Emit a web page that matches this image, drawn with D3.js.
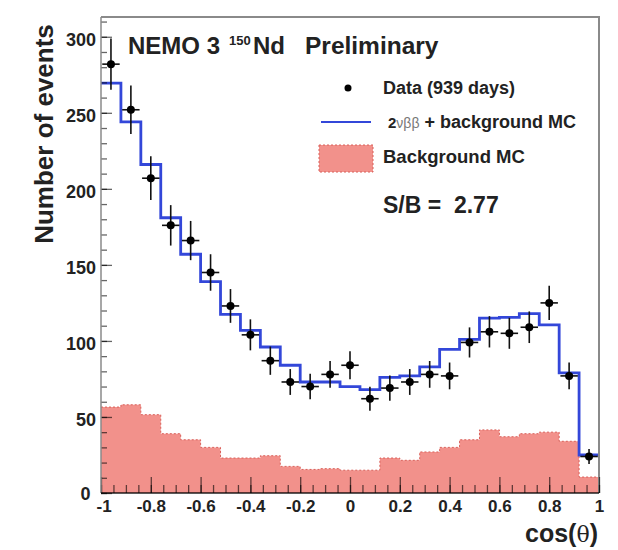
<!DOCTYPE html>
<html>
<head>
<meta charset="utf-8">
<script src="https://cdn.jsdelivr.net/npm/d3@7"></script>
<style>
  html, body { margin: 0; padding: 0; background: #fff; }
  svg { display: block; }
  text { font-family: "Liberation Sans", Arial, Helvetica, sans-serif; }
</style>
</head>
<body>
<svg id="chart" width="618" height="550"></svg>
<script>
// cos(theta) bins (width 0.08), bin centres
const binCenters = [-0.96, -0.88, -0.80, -0.72, -0.64, -0.56, -0.48, -0.40, -0.32, -0.24,
                    -0.16, -0.08, 0.00, 0.08, 0.16, 0.24, 0.32, 0.40, 0.48, 0.56,
                    0.64, 0.72, 0.80, 0.88, 0.96];
const binWidth = 0.08;

// Measured events (939 days) and their statistical errors
const dataCounts = [282, 252, 207, 176, 166, 145, 123, 104, 87, 73,
                    70, 78, 84, 62, 69, 73, 78, 77, 99, 106,
                    105, 109, 125, 77, 24];
const dataErrors = [16.8, 15.9, 14.4, 13.3, 12.9, 12.0, 11.1, 10.2, 9.3, 8.5,
                    8.4, 8.8, 9.2, 7.9, 8.3, 8.5, 8.8, 8.8, 9.9, 10.3,
                    10.2, 10.4, 11.2, 8.8, 4.9];

// 2vbb + background Monte Carlo
const totalMC = [269.5, 244, 216, 181, 157, 139, 117.5, 107, 96, 84,
                 73, 73, 70, 68, 76, 77, 83, 94.5, 101, 115,
                 115.5, 118, 110.5, 79, 25];

// Background-only Monte Carlo
const backgroundMC = [56.5, 58, 51.5, 39, 35, 30, 23, 23, 24.5, 17.5,
                      15.5, 16, 15, 15, 23, 21.5, 27, 30, 35, 41.5,
                      37, 39, 40, 34, 10.5];

// Axis ticks
const xTickValues = [-1, -0.8, -0.6, -0.4, -0.2, 0, 0.2, 0.4, 0.6, 0.8, 1];
const xTickLabels = ["-1", "-0.8", "-0.6", "-0.4", "-0.2", "0", "0.2", "0.4", "0.6", "0.8", "1"];
const yTickValues = [0, 50, 100, 150, 200, 250, 300];
const yTickLabels = ["0", "50", "100", "150", "200", "250", "300"];

(function draw() {
  const svg = d3.select("#chart");
  const pL = 101, pR = 599, pT = 17, pB = 493;

  const x = d3.scaleLinear().domain([-1, 1]).range([pL, pR]);
  const y = d3.scaleLinear().domain([0, 313]).range([pB, pT]);

  const pinkFill = "#f2918b";
  const pinkEdge = "#d9605a";
  const blue = "#3347d9";

  // Step outlines: one point per lower bin edge plus the final upper edge
  function stepPoints(values) {
    const pts = values.map((v, i) => [binCenters[i] - binWidth / 2, v]);
    pts.push([binCenters[binCenters.length - 1] + binWidth / 2, values[values.length - 1]]);
    return pts;
  }

  const plot = svg.append("g");

  // Background histogram (filled)
  const bgPts = stepPoints(backgroundMC);
  plot.append("path")
    .attr("d", d3.area().curve(d3.curveStepAfter)
      .x(d => x(d[0])).y0(y(0)).y1(d => y(d[1]))(bgPts))
    .attr("fill", pinkFill);
  plot.append("path")
    .attr("d", d3.line().curve(d3.curveStepAfter)
      .x(d => x(d[0])).y(d => y(d[1]))(bgPts))
    .attr("fill", "none")
    .attr("stroke", pinkEdge)
    .attr("stroke-width", 1)
    .attr("stroke-dasharray", "2,2");

  // Signal + background histogram (line)
  plot.append("path")
    .attr("d", d3.line().curve(d3.curveStepAfter)
      .x(d => x(d[0])).y(d => y(d[1]))(stepPoints(totalMC)))
    .attr("fill", "none")
    .attr("stroke", blue)
    .attr("stroke-width", 2.8);

  // Data points with error bars
  const pts = plot.append("g").selectAll("g")
    .data(binCenters.map((c, i) => ({ c, n: dataCounts[i], e: dataErrors[i] })))
    .join("g");
  pts.append("line")
    .attr("x1", d => x(d.c)).attr("x2", d => x(d.c))
    .attr("y1", d => y(d.n - d.e)).attr("y2", d => y(d.n + d.e))
    .attr("stroke", "#111").attr("stroke-width", 1.6);
  pts.append("line")
    .attr("x1", d => x(d.c - 0.035)).attr("x2", d => x(d.c + 0.035))
    .attr("y1", d => y(d.n)).attr("y2", d => y(d.n))
    .attr("stroke", "#111").attr("stroke-width", 1.6);
  pts.append("circle")
    .attr("cx", d => x(d.c)).attr("cy", d => y(d.n))
    .attr("r", 4).attr("fill", "#000");

  // Frame (top and right)
  svg.append("path")
    .attr("d", `M${pL},${pT}H${pR}V${pB}`)
    .attr("fill", "none").attr("stroke", "#8a8a8a").attr("stroke-width", 2);

  // X axis
  const xMinor = d3.range(-1, 1.0001, 0.05).map(v => +v.toFixed(2));
  const xAxisMinor = svg.append("g").attr("transform", `translate(0,${pB})`)
    .call(d3.axisBottom(x).tickValues(xMinor).tickSize(-8).tickFormat(""));
  const xAxis = svg.append("g").attr("transform", `translate(0,${pB})`)
    .call(d3.axisBottom(x).tickValues(xTickValues).tickSize(-16).tickPadding(9)
      .tickFormat((d, i) => xTickLabels[i]));

  // Y axis
  const yMinor = d3.range(0, 311, 10);
  const yAxisMinor = svg.append("g").attr("transform", `translate(${pL},0)`)
    .call(d3.axisLeft(y).tickValues(yMinor).tickSize(-6).tickFormat(""));
  const yAxis = svg.append("g").attr("transform", `translate(${pL},0)`)
    .call(d3.axisLeft(y).tickValues(yTickValues).tickSize(-11).tickPadding(5)
      .tickFormat((d, i) => yTickLabels[i]));

  [xAxisMinor, xAxis, yAxisMinor, yAxis].forEach(g => {
    g.selectAll(".tick line").attr("stroke", "#000").attr("stroke-opacity", 0.6).attr("stroke-width", 1.3);
    g.select(".domain").remove();
  });
  xAxis.selectAll(".tick text")
    .attr("font-size", 17).attr("font-weight", "bold").attr("fill", "#222")
    .attr("dy", "0.6em");
  yAxis.selectAll(".tick text")
    .attr("font-size", 18).attr("font-weight", "bold").attr("fill", "#222")
    .attr("dy", "0.5em");
  // keep the origin labels of the two axes apart
  yAxis.selectAll(".tick text").filter(d => d === 0).attr("dx", "-0.3em").attr("dy", "0.35em");
  xAxis.selectAll(".tick text").filter(d => d === -1).attr("dx", "0.15em");

  // Axis lines
  svg.append("line").attr("x1", pL).attr("x2", pL).attr("y1", pT).attr("y2", pB)
    .attr("stroke", "#8a8a8a").attr("stroke-width", 1.5);
  svg.append("line").attr("x1", pL).attr("x2", pR).attr("y1", pB).attr("y2", pB)
    .attr("stroke", "#000").attr("stroke-opacity", 0.65).attr("stroke-width", 2);

  // Axis titles
  svg.append("text")
    .attr("transform", "translate(53,134) rotate(-90)")
    .attr("text-anchor", "middle")
    .attr("font-size", 26).attr("font-weight", "bold").attr("fill", "#222")
    .text("Number of events");

  const xt = svg.append("text")
    .attr("x", 598).attr("y", 542).attr("text-anchor", "end")
    .attr("font-size", 25).attr("font-weight", "bold").attr("fill", "#222");
  xt.append("tspan").text("cos(");
  xt.append("tspan").attr("font-weight", "normal").attr("font-family", "DejaVu Serif").attr("font-size", 22).text("θ");
  xt.append("tspan").text(")");

  // Header
  const hdr = svg.append("g").attr("fill", "#222").attr("font-weight", "bold");
  hdr.append("text").attr("x", 128).attr("y", 54).attr("font-size", 24).text("NEMO 3");
  hdr.append("text").attr("x", 229).attr("y", 45).attr("font-size", 13).text("150");
  hdr.append("text").attr("x", 253).attr("y", 54).attr("font-size", 24).text("Nd");
  hdr.append("text").attr("x", 305).attr("y", 54).attr("font-size", 24.5).text("Preliminary");

  // Legend
  const leg = svg.append("g");
  leg.append("circle").attr("cx", 348).attr("cy", 88).attr("r", 3.5).attr("fill", "#000");
  leg.append("text").attr("x", 383).attr("y", 94).attr("font-size", 18).attr("font-weight", "bold")
    .attr("fill", "#222").text("Data (939 days)");

  leg.append("line").attr("x1", 321).attr("x2", 371).attr("y1", 122).attr("y2", 122)
    .attr("stroke", blue).attr("stroke-width", 1.8);
  const lt = leg.append("text").attr("x", 388).attr("y", 128).attr("font-size", 18)
    .attr("font-weight", "bold").attr("fill", "#222");
  lt.append("tspan").attr("font-size", 15).text("2");
  lt.append("tspan").attr("font-weight", "normal").attr("font-size", 14).attr("fill", "#777").text("νββ");
  lt.append("tspan").text(" + background MC");

  leg.append("rect").attr("x", 319).attr("y", 145).attr("width", 54).attr("height", 27)
    .attr("fill", pinkFill).attr("stroke", pinkEdge).attr("stroke-width", 1)
    .attr("stroke-dasharray", "2,2");
  leg.append("text").attr("x", 383).attr("y", 163).attr("font-size", 18.5).attr("font-weight", "bold")
    .attr("fill", "#222").text("Background MC");

  leg.append("text").attr("x", 383).attr("y", 213).attr("font-size", 23).attr("font-weight", "bold")
    .attr("fill", "#222").style("white-space", "pre")
    .text("S/B =  2.77");
})();
</script>
</body>
</html>
